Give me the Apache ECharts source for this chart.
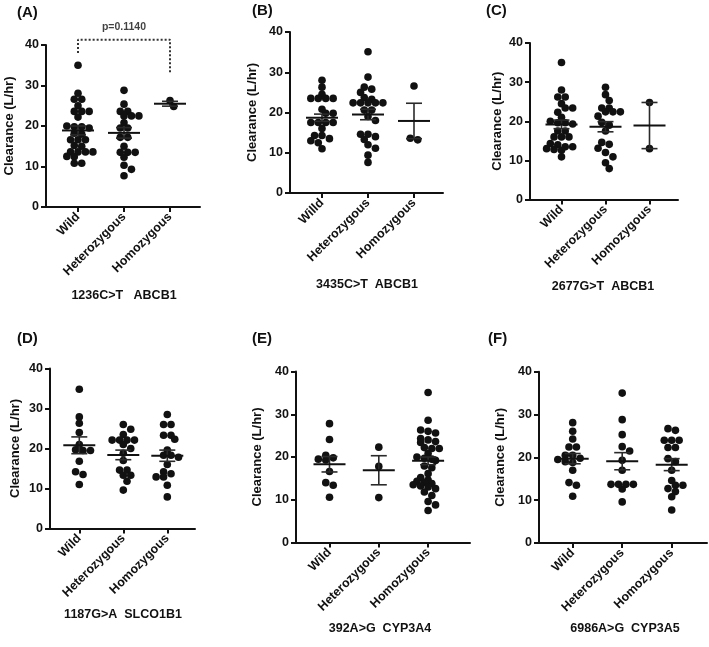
<!DOCTYPE html>
<html><head><meta charset="utf-8">
<script src="https://cdn.jsdelivr.net/npm/echarts@6/dist/echarts.min.js"></script>
<style>html,body{margin:0;padding:0;background:#fff}#c{width:709px;height:647px}</style>
</head><body><div id="c"></div>
<script>
// ---------------- DATA ----------------
const categories  = ['Wild', 'Heterozygous', 'Homozygous'];
const categoriesB = ['Willd', 'Heterozygous', 'Homozygous'];
const yTicks = [0, 10, 20, 30, 40];
const yAxisName = 'Clearance (L/hr)';
const panelLetters = ['(A)', '(B)', '(C)', '(D)', '(E)', '(F)'];
const panelTitles = ['1236C>T   ABCB1', '3435C>T  ABCB1', '2677G>T  ABCB1', '1187G>A  SLCO1B1', '392A>G  CYP3A4', '6986A>G  CYP3A5'];

// (A) 1236C>T ABCB1
const aWild = [35.0, 28.1, 26.6, 26.6, 25.0, 23.6, 23.6, 23.6, 22.2, 20.0, 19.8, 19.8, 19.5, 18.2, 18.0, 16.6, 16.6, 16.6, 15.2, 15.0, 13.6, 13.6, 13.6, 13.6, 12.5, 12.4, 10.8, 10.8];
const aHet  = [28.8, 25.4, 23.6, 23.6, 22.5, 22.5, 22.5, 20.8, 19.5, 19.5, 17.2, 17.2, 15.0, 13.5, 13.5, 13.5, 12.3, 10.3, 9.3, 7.7];
const aHom  = [24.8, 26.3];
const aMean = [18.9, 18.3, 25.5];
const aSem  = [1.1, 1.3, 0.6];
const pText = 'p=0.1140';
const aBracketTop = 41.3, aBracketLeftEnd = 38.0, aBracketRightEnd = 33.1, aPTextY = 44.3;

// (B) 3435C>T ABCB1
const bWild = [28.0, 26.3, 24.5, 23.5, 23.5, 23.5, 23.5, 20.8, 19.8, 19.8, 17.5, 17.5, 17.5, 17.5, 16.0, 14.3, 14.3, 13.5, 13.0, 12.5, 11.0];
const bHet  = [35.1, 28.8, 26.3, 25.8, 25.0, 23.7, 23.3, 22.4, 22.4, 22.4, 22.4, 22.4, 20.6, 20.6, 19.0, 18.0, 14.6, 14.6, 14.0, 13.3, 12.0, 11.1, 9.4, 7.6];
const bHom  = [26.6, 13.2, 13.6];
const bMean = [18.7, 19.5, 17.9];
const bSem  = [0.9, 1.3, 4.4];

// (C) 2677G>T ABCB1
const cWild = [35.0, 28.0, 26.2, 26.2, 24.5, 23.4, 23.4, 22.3, 21.0, 20.0, 19.6, 19.6, 19.3, 17.5, 17.5, 16.0, 16.0, 16.0, 14.3, 14.0, 13.5, 13.5, 13.0, 12.8, 12.6, 10.9];
const cHet  = [28.7, 26.8, 25.3, 23.4, 23.4, 22.4, 22.4, 22.4, 21.3, 19.7, 19.0, 17.5, 14.6, 14.1, 13.1, 12.0, 10.9, 9.4, 7.9];
const cHom  = [24.8, 13.0];
const cMean = [19.2, 18.6, 18.9];
const cSem  = [1.1, 1.3, 5.9];

// (D) 1187G>A SLCO1B1
const dWild = [34.8, 27.9, 26.3, 24.0, 21.0, 19.7, 19.5, 19.5, 16.8, 14.2, 13.5, 11.0];
const dHet  = [26.0, 24.8, 23.5, 22.1, 22.1, 22.1, 22.1, 21.0, 20.0, 18.8, 17.0, 14.6, 14.6, 13.3, 13.3, 11.8, 9.6];
const dHom  = [28.5, 26.0, 26.0, 23.3, 23.3, 22.3, 19.6, 18.3, 18.3, 17.8, 16.0, 14.2, 13.7, 12.9, 12.9, 10.8, 7.9];
const dMean = [20.8, 18.4, 18.2];
const dSem  = [2.1, 1.2, 1.4];

// (E) 392A>G CYP3A4
const eWild = [27.8, 24.1, 20.4, 19.8, 19.5, 19.3, 16.6, 14.0, 13.4, 10.6];
const eHet  = [22.3, 17.8, 10.5];
const eHom  = [35.1, 28.6, 26.3, 26.0, 25.6, 24.3, 24.0, 23.6, 23.4, 22.2, 22.0, 22.0, 20.8, 20.0, 19.7, 19.5, 19.2, 17.9, 17.5, 16.1, 15.2, 14.6, 14.3, 14.1, 13.8, 13.5, 13.2, 13.0, 12.6, 11.8, 11.0, 9.6, 8.8, 7.5];
const eMean = [18.3, 16.9, 19.1];
const eSem  = [1.8, 3.4, 0.9];

// (F) 6986A>G CYP3A5
const fWild = [28.1, 26.1, 24.3, 22.4, 22.4, 20.5, 20.5, 19.8, 19.5, 19.0, 18.8, 17.0, 14.1, 13.5, 10.9];
const fHet  = [35.0, 28.8, 25.3, 22.5, 21.5, 19.3, 17.0, 13.7, 13.7, 13.7, 13.7, 12.6, 9.6];
const fHom  = [26.7, 26.3, 24.0, 24.0, 24.0, 22.3, 22.3, 19.7, 19.0, 17.0, 14.6, 13.5, 13.5, 12.7, 12.0, 10.8, 7.7];
const fMean = [19.7, 19.1, 18.3];
const fSem  = [1.2, 2.0, 1.4];

// ---------------- LAYOUT (pixels) ----------------
const layout = [
  {axisX: 46,  top: 45,    bottom: 207,   cat1: 78,    unit: 46,   endX: 200, letterX: 17,  letterY: 13,  titleX: 124, titleY: 296, nameGap: 30},
  {axisX: 290, top: 32,    bottom: 193,   cat1: 322,   unit: 46,   endX: 443, letterX: 252, letterY: 11,  titleX: 367, titleY: 285, nameGap: 31},
  {axisX: 530, top: 43,    bottom: 199.5, cat1: 561.5, unit: 44,   endX: 678, letterX: 486, letterY: 11,  titleX: 603, titleY: 287, nameGap: 26},
  {axisX: 50,  top: 368.5, bottom: 528.5, cat1: 79.3,  unit: 44,   endX: 195, letterX: 17,  letterY: 339, titleX: 123, titleY: 615, nameGap: 28},
  {axisX: 296, top: 371.5, bottom: 542.5, cat1: 329.5, unit: 49.3, endX: 470, letterX: 252, letterY: 339, titleX: 380, titleY: 629, nameGap: 32},
  {axisX: 539, top: 371.7, bottom: 543,   cat1: 572.7, unit: 49.5, endX: 707, letterX: 488, letterY: 339, titleX: 625, titleY: 629, nameGap: 32}
];

const panels = [
  {cats: categories,  groups: [aWild, aHet, aHom], mean: aMean, sem: aSem},
  {cats: categoriesB, groups: [bWild, bHet, bHom], mean: bMean, sem: bSem},
  {cats: categories,  groups: [cWild, cHet, cHom], mean: cMean, sem: cSem},
  {cats: categories,  groups: [dWild, dHet, dHom], mean: dMean, sem: dSem},
  {cats: categories,  groups: [eWild, eHet, eHom], mean: eMean, sem: eSem},
  {cats: categories,  groups: [fWild, fHet, fHom], mean: fMean, sem: fSem}
];

const FONT = '"Liberation Sans", Arial, Helvetica, sans-serif';
const INK = '#111';
const DOT = 7.6;

const chart = echarts.init(document.getElementById('c'), null, {renderer: 'canvas'});
const option = {animation: false, backgroundColor: '#fff', grid: [], xAxis: [], yAxis: [], series: [], graphic: []};

panels.forEach((p, i) => {
  const g = layout[i];
  const xmin = 1 - (g.cat1 - g.axisX) / g.unit;
  const xmax = xmin + (g.endX - g.axisX) / g.unit;
  option.grid.push({left: g.axisX, top: g.top, width: g.endX - g.axisX, height: g.bottom - g.top, containLabel: false});
  option.xAxis.push({
    type: 'value', gridIndex: i, min: xmin, max: xmax, splitLine: {show: false},
    axisLine: {show: true, onZero: false, lineStyle: {color: INK, width: 2}},
    axisTick: {show: true, customValues: [1, 2, 3], length: 5, lineStyle: {color: INK, width: 2}},
    axisLabel: {show: true, customValues: [1, 2, 3], formatter: v => p.cats[Math.round(v) - 1] || '',
      rotate: 45, margin: 8, color: INK, fontFamily: FONT, fontWeight: 'bold', fontSize: 12.5}
  });
  option.yAxis.push({
    type: 'value', gridIndex: i, min: yTicks[0], max: yTicks[yTicks.length - 1], interval: 10,
    splitLine: {show: false},
    axisLine: {show: true, onZero: false, lineStyle: {color: INK, width: 2}},
    axisTick: {show: true, length: 5, lineStyle: {color: INK, width: 2}},
    axisLabel: {margin: 7, color: INK, fontFamily: FONT, fontWeight: 'bold', fontSize: 12.5},
    name: yAxisName, nameLocation: 'middle', nameRotate: 90, nameGap: g.nameGap,
    nameTextStyle: {color: INK, fontFamily: FONT, fontWeight: 'bold', fontSize: 13}
  });
  const pts = [];
  p.groups.forEach((arr, k) => arr.forEach(v => pts.push([k + 1, v])));
  option.series.push({
    type: 'scatter', xAxisIndex: i, yAxisIndex: i, symbol: 'circle', symbolSize: DOT,
    itemStyle: {color: INK, opacity: 1}, data: pts, z: 2
  });
  option.series.push({
    type: 'custom', xAxisIndex: i, yAxisIndex: i, z: 3,
    data: p.mean.map((m, k) => [k + 1, m, p.sem[k]]),
    encode: {x: 0, y: 1},
    renderItem: (params, api) => {
      const x = api.value(0), m = api.value(1), s = api.value(2);
      const c = api.coord([x, m]), hi = api.coord([x, m + s]), lo = api.coord([x, m - s]);
      const mw = 16, cw = 8;
      const st = {stroke: INK, lineWidth: 2};
      const st2 = {stroke: '#2a2a2a', lineWidth: 1.6};
      return {type: 'group', children: [
        {type: 'line', shape: {x1: c[0], y1: hi[1], x2: c[0], y2: lo[1]}, style: st2},
        {type: 'line', shape: {x1: c[0] - cw, y1: hi[1], x2: c[0] + cw, y2: hi[1]}, style: st2},
        {type: 'line', shape: {x1: c[0] - cw, y1: lo[1], x2: c[0] + cw, y2: lo[1]}, style: st2},
        {type: 'line', shape: {x1: c[0] - mw, y1: c[1], x2: c[0] + mw, y2: c[1]}, style: st}
      ]};
    }
  });
  option.graphic.push({type: 'text', x: g.letterX, y: g.letterY,
    style: {text: panelLetters[i], fill: INK, fontFamily: FONT, fontWeight: 'bold', fontSize: 15, align: 'left', verticalAlign: 'middle'}});
  option.graphic.push({type: 'text', x: g.titleX, y: g.titleY,
    style: {text: panelTitles[i], fill: INK, fontFamily: FONT, fontWeight: 'bold', fontSize: 12.5, align: 'center', verticalAlign: 'middle'}});
});

// significance bracket in panel A
option.series.push({
  type: 'line', xAxisIndex: 0, yAxisIndex: 0, clip: false, symbol: 'none', z: 4,
  lineStyle: {color: '#333', width: 2, type: [2, 2]},
  data: [[1, aBracketLeftEnd], [1, aBracketTop], [3, aBracketTop], [3, aBracketRightEnd]]
});
option.series.push({
  type: 'scatter', xAxisIndex: 0, yAxisIndex: 0, clip: false, symbolSize: 0, z: 4,
  data: [[2, aPTextY]],
  label: {show: true, position: 'inside', formatter: pText, color: INK, fontFamily: FONT, fontWeight: 'bold', fontSize: 10.5}
});

chart.setOption(option);

// row-based (GraphPad-like) dot arrangement, computed through the library's own scales
function swarm(gi, xc, values) {
  const cx = chart.convertToPixel({gridIndex: gi}, [xc, 0])[0];
  const pts = values.map(v => ({v: v, py: chart.convertToPixel({gridIndex: gi}, [xc, v])[1]}));
  const order = pts.slice().sort((a, b) => a.py - b.py);
  // group into rows
  const rows = [];
  order.forEach(p => {
    const r = rows[rows.length - 1];
    if (r && Math.abs(p.py - r[0].py) < DOT * 0.45) r.push(p); else rows.push([p]);
  });
  const placed = [];
  const step = DOT * 0.98;
  rows.forEach(r => {
    const n = r.length;
    const base = r.map((p, j) => (j - (n - 1) / 2) * step);
    const shifts = [0, step / 2, -step / 2, step, -step];
    let best = 0, bestBad = Infinity;
    shifts.forEach(s => {
      if (bestBad === 0) return;
      let bad = 0;
      r.forEach((p, j) => placed.forEach(q => {
        const dd = Math.hypot(q.px - (cx + base[j] + s), q.py - p.py);
        if (dd < DOT * 0.8) bad += (DOT * 0.8 - dd);
      }));
      if (bad < bestBad - 1e-6) { bestBad = bad; best = s; }
    });
    r.forEach((p, j) => { p.px = cx + base[j] + best; placed.push(p); });
  });
  return pts.map(p => [chart.convertFromPixel({gridIndex: gi}, [p.px, p.py])[0], p.v]);
}
const newSeries = option.series.map(() => ({}));
panels.forEach((p, i) => {
  let data = [];
  p.groups.forEach((arr, k) => { data = data.concat(swarm(i, k + 1, arr)); });
  newSeries[i * 2] = {data: data};
});
chart.setOption({series: newSeries});
</script></body></html>
